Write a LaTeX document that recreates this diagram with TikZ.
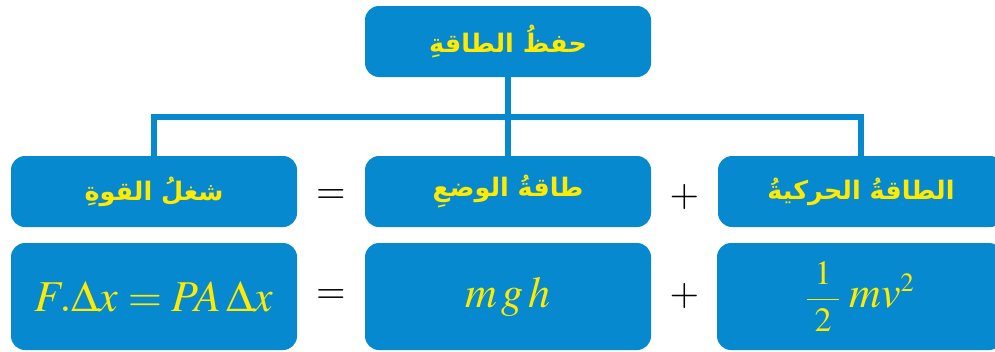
\documentclass[tikz,border=0pt]{standalone}
\usepackage{amsmath}
\usepackage{mathptmx}
\usepackage{fontspec}
\newfontfamily\arabicfont[Script=Arabic]{DejaVu Sans}
\TeXXeTstate=1
\definecolor{boxblue}{HTML}{0789D0}
\definecolor{txtyellow}{HTML}{FFEA00}
\tikzset{
  blubox/.style={draw=none, fill=boxblue, rounded corners=14pt, minimum width=286pt, inner sep=0pt, text=txtyellow},
  hdbox/.style={blubox, minimum height=71pt, font=\arabicfont\bfseries\fontsize{25.5}{30}\selectfont},
  eqbox/.style={blubox, minimum height=107pt, font=\fontsize{44}{50}\selectfont},
  opsign/.style={text=black, inner sep=0pt, font=\fontsize{38}{44}\selectfont},
  conn/.style={draw=boxblue, line width=6pt}
}
\begin{document}
\begin{tikzpicture}[x=1pt, y=-1pt]
\useasboundingbox (0,0) rectangle (995,351);
\clip (0,0) rectangle (995,351);
\node[hdbox] (top) at (508,41.5) {\beginR حفظُ الطاقةِ\endR};
\node[hdbox] (work) at (154,191.5) {\beginR شغلُ القوةِ\endR};
\node[hdbox] (pot) at (508,191.5) {\beginR طاقةُ الوضعِ\endR};
\node[hdbox] (kin) at (861,191.5) {\beginR الطاقةُ الحركيةُ\endR};
\node[eqbox] (workF) at (154,296.5) {$F.\Delta x = PA\,\Delta x$};
\node[eqbox] (potF) at (508,296.5) {$m\mkern2mu g\mkern2mu h$};
\node[eqbox] (kinF) at (860,296.5) {{\fontsize{34}{40}\selectfont$\dfrac{\;1\;}{\;2\;}$}\hspace{9pt}$mv^{\scriptscriptstyle 2}$};
\node[opsign] (eq1) at (331,197) {$=$};
\node[opsign] (eq2) at (331,297) {$=$};
\node[opsign] (pl1) at (684.5,197.5) {$+$};
\node[opsign] (pl2) at (684.5,296) {$+$};
\coordinate (bus) at (0,117);
\draw[conn] (top.south) -- (top.south |- bus);
\draw[conn] (work.north) -- (work.north |- bus) -- (kin.north |- bus) -- (kin.north);
\draw[conn] (pot.north) -- (pot.north |- bus);
\end{tikzpicture}
\end{document}
